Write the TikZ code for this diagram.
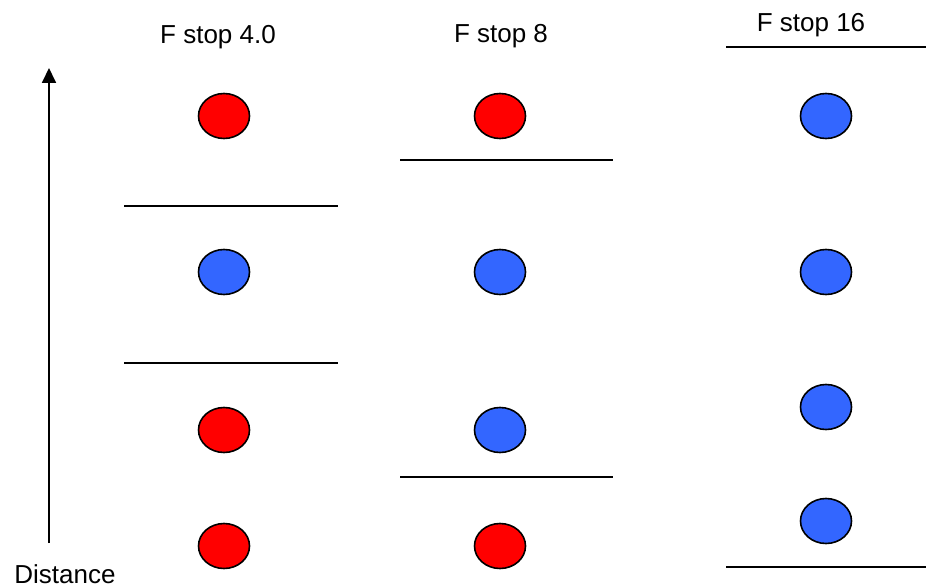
\documentclass[tikz,border=0pt]{standalone}
\usepackage{fontspec}
\setmainfont{Liberation Sans}
\usetikzlibrary{shapes.geometric,arrows.meta}
\definecolor{dotred}{HTML}{FF0000}
\definecolor{dotblue}{HTML}{3366FF}
\begin{document}
\begin{tikzpicture}[x=1pt,y=-1pt,
  dot/.style={ellipse,draw=black,line width=1.6pt,minimum width=51pt,minimum height=45pt,inner sep=0pt},
  reddot/.style={dot,fill=dotred},
  bluedot/.style={dot,fill=dotblue},
  sep/.style={line width=1.6pt},
  lbl/.style={font=\fontsize{26}{30}\selectfont,inner sep=0pt}]
\useasboundingbox (0,0) rectangle (926,588);
% titles
\node[lbl] (t1) at (218,37) {F stop 4.0};
\node[lbl] (t2) at (501,36) {F stop 8};
\node[lbl] (t3) at (811,25) {F stop 16};
\node[lbl] (dist) at (65,574) {Distance};
% axis
\coordinate (abot) at (49,543);
\coordinate (atop) at (49,68);
\draw[line width=1.8pt,-{Triangle[length=15pt,width=14pt]}] (abot) -- (atop);
% column 1
\node[reddot]  (c1a) at (224,116) {};
\node[bluedot] (c1b) at (224,272) {};
\node[reddot]  (c1c) at (224,430) {};
\node[reddot]  (c1d) at (224,546) {};
\coordinate (l1aL) at (124,206); \coordinate (l1aR) at (338,206);
\coordinate (l1bL) at (124,363); \coordinate (l1bR) at (338,363);
\draw[sep] (l1aL) -- (l1aR);
\draw[sep] (l1bL) -- (l1bR);
% column 2
\node[reddot]  (c2a) at (500,116) {};
\node[bluedot] (c2b) at (500,272) {};
\node[bluedot] (c2c) at (500,430) {};
\node[reddot]  (c2d) at (500,546) {};
\coordinate (l2aL) at (400,160); \coordinate (l2aR) at (613,160);
\coordinate (l2bL) at (400,477); \coordinate (l2bR) at (613,477);
\draw[sep] (l2aL) -- (l2aR);
\draw[sep] (l2bL) -- (l2bR);
% column 3
\node[bluedot] (c3a) at (826,116) {};
\node[bluedot] (c3b) at (826,272) {};
\node[bluedot] (c3c) at (826,407) {};
\node[bluedot] (c3d) at (826,521) {};
\coordinate (l3aL) at (726,47); \coordinate (l3aR) at (926,47);
\coordinate (l3bL) at (726,567); \coordinate (l3bR) at (926,567);
\draw[sep] (l3aL) -- (l3aR);
\draw[sep] (l3bL) -- (l3bR);
\end{tikzpicture}
\end{document}
